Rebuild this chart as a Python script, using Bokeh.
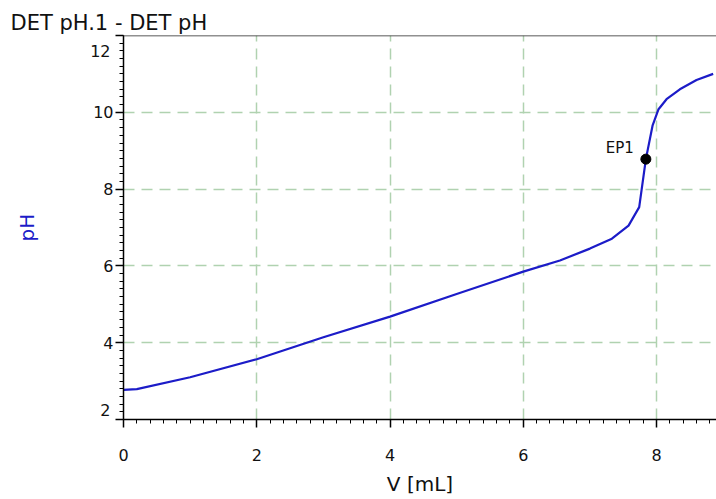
from bokeh.plotting import figure
from bokeh.models import Range1d, Span, FixedTicker, LinearAxis, Label
from bokeh.embed import file_html
from bokeh.resources import INLINE

# Data
volume_ml = [0.0, 0.2, 1.0, 2.0, 3.0, 4.0, 5.0, 6.0, 6.55, 7.0, 7.33, 7.58, 7.74,
             7.84, 7.94, 8.03, 8.15, 8.35, 8.6, 8.85]
ph_values = [2.77, 2.79, 3.10, 3.57, 4.14, 4.68, 5.27, 5.85, 6.14, 6.45, 6.71, 7.05, 7.53,
             8.78, 9.65, 10.08, 10.34, 10.6, 10.84, 11.0]
ep_volume = [7.84]
ep_ph = [8.78]
ep_label = "EP1"
x_ticks = [0, 2, 4, 6, 8]
y_ticks = [2, 4, 6, 8, 10, 12]
title_text = "DET pH.1 - DET pH"

FONT = "DejaVu Sans"
BLUE = "#1c1cc8"
GRID = "#b0d2b0"

p = figure(width=716, height=499, output_backend="svg", toolbar_location=None,
           x_range=Range1d(0, 8.9), y_range=Range1d(2, 12),
           min_border_left=123, min_border_right=0, min_border_top=35, min_border_bottom=80)
p.outline_line_color = None
p.background_fill_color = "white"
p.border_fill_color = "white"

p.title.text = title_text
p.title.text_font = FONT
p.title.text_font_size = "21px"
p.title.text_font_style = "normal"
p.title.text_color = "#111111"
p.title.align = "left"
p.title.offset = -113
p.title.standoff = 2

# axes
for ax in (p.xaxis[0], p.yaxis[0]):
    ax.axis_line_color = "black"
    ax.axis_line_width = 1.5
    ax.major_tick_line_color = "black"
    ax.major_tick_line_width = 1.5
    ax.minor_tick_line_color = "black"
    ax.major_tick_out = 8
    ax.major_tick_in = 0
    ax.minor_tick_out = 4
    ax.minor_tick_in = 0
    ax.major_label_text_font = FONT
    ax.major_label_text_font_size = "16px"
    ax.major_label_text_color = "#111111"
    ax.axis_label_text_font = FONT
    ax.axis_label_text_font_style = "normal"
    ax.axis_label_text_font_size = "20px"

p.xaxis.ticker = FixedTicker(ticks=x_ticks, minor_ticks=[i * 0.2 for i in range(0, 45)])
p.yaxis.ticker = FixedTicker(ticks=y_ticks, minor_ticks=[2 + i * 0.2 for i in range(0, 51)])
p.xaxis.major_label_standoff = 21
p.xaxis.axis_label = "V [mL]"
p.xaxis.axis_label_text_color = "#111111"
p.xaxis.axis_label_standoff = 8

p.yaxis.major_label_standoff = 2
p.yaxis.major_label_overrides = {2: "", 12: ""}

# second left axis: end labels of the y scale sit inside the range, plus the axis title
end_ax = LinearAxis(ticker=FixedTicker(ticks=[2.25, 11.6]),
                    major_label_overrides={2.25: str(y_ticks[0]), 11.6: str(y_ticks[-1])},
                    axis_line_color=None, major_tick_line_color=None, minor_tick_line_color=None,
                    major_tick_out=0, major_tick_in=0, minor_tick_out=0, minor_tick_in=0,
                    major_label_standoff=-20,
                    major_label_text_font=FONT, major_label_text_font_size="16px",
                    major_label_text_color="#111111",
                    axis_label="pH", axis_label_text_color=BLUE, axis_label_text_font=FONT,
                    axis_label_text_font_style="normal", axis_label_text_font_size="20px",
                    axis_label_standoff=48)
p.add_layout(end_ax, "left")

# grid
p.xgrid.ticker = FixedTicker(ticks=x_ticks)
p.ygrid.ticker = FixedTicker(ticks=y_ticks)
for g in (p.xgrid[0], p.ygrid[0]):
    g.grid_line_color = GRID
    g.grid_line_width = 1.5
    g.grid_line_dash = "11 7"

# top border
p.add_layout(Span(location=12, dimension="width", line_color="#222222", line_width=1.5))

# curve
p.line(volume_ml, ph_values, line_color=BLUE, line_width=2.2)
p.scatter(ep_volume, ep_ph, size=10, fill_color="black", line_color="black")
p.add_layout(Label(x=ep_volume[0] - 0.18, y=ep_ph[0] + 0.28, text=ep_label, text_align="right",
                   text_baseline="middle", text_font=FONT, text_font_size="15px", text_color="#111111"))

open("out.html", "w").write(file_html(p, INLINE))
